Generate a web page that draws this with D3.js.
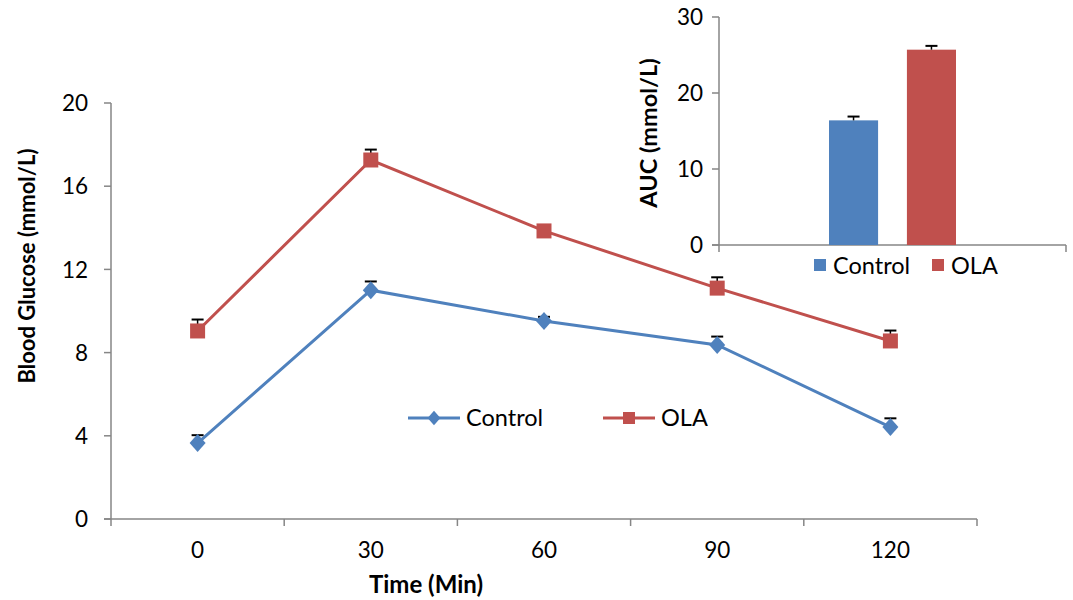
<!DOCTYPE html>
<html><head><meta charset="utf-8">
<script src="https://cdn.jsdelivr.net/npm/d3@7"></script>
<style>body{margin:0;background:#fff}svg{display:block}text{font-family:Lato,"Open Sans",sans-serif;fill:#000}</style>
</head><body>
<script>
const times = ["0","30","60","90","120"];
const yTicks = [0,4,8,12,16,20];
const controlMean = [3.65, 11.0, 9.52, 8.37, 4.42];
const controlErr  = [0.38, 0.42, 0.2, 0.4, 0.42];
const olaMean = [9.04, 17.26, 13.85, 11.1, 8.56];
const olaErr  = [0.55, 0.5, 0.15, 0.52, 0.5];
const aucGroups = ["Control","OLA"];
const aucMean = [16.4, 25.7];
const aucErr = [0.5, 0.5];
const aucTicks = [0,10,20,30];
const blue = "#4F81BD", red = "#C0504D", axisCol = "#868686";

const svg = d3.select("body").append("svg").attr("width",1073).attr("height",600);
svg.append("rect").attr("width",1073).attr("height",600).attr("fill","#fff");

// main chart
const x = d3.scaleBand().domain(times).range([111,977]);
const y = d3.scaleLinear().domain([0,20]).range([519,103]);
const g = svg.append("g");
// y axis
g.append("line").attr("x1",111).attr("x2",111).attr("y1",y(20)).attr("y2",y(0)+7).attr("stroke",axisCol).attr("stroke-width",1.5);
g.selectAll(".yt").data(yTicks).join("line").attr("x1",104).attr("x2",111).attr("y1",d=>y(d)).attr("y2",d=>y(d)).attr("stroke",axisCol).attr("stroke-width",1.5);
g.selectAll(".yl").data(yTicks).join("text").attr("x",88).attr("y",d=>y(d)).attr("dy","0.36em").attr("text-anchor","end").style("font-size","22.5px").text(d=>d);
// x axis
g.append("line").attr("x1",104).attr("x2",977).attr("y1",519).attr("y2",519).attr("stroke",axisCol).attr("stroke-width",1.5);
const bounds = times.map(t=>x(t)).concat([x.range()[1]]);
g.selectAll(".xt").data(bounds.slice(1)).join("line").attr("x1",d=>d).attr("x2",d=>d).attr("y1",519).attr("y2",526).attr("stroke",axisCol).attr("stroke-width",1.5);
g.selectAll(".xl").data(times).join("text").attr("x",d=>x(d)+x.bandwidth()/2).attr("y",558).attr("text-anchor","middle").style("font-size","22.5px").text(d=>d);
g.append("text").attr("x",426).attr("y",593).attr("text-anchor","middle").style("font-size","24px").style("font-weight","bold").text("Time (Min)");
g.append("text").attr("transform","translate(35,266) rotate(-90)").attr("text-anchor","middle").style("font-size","22px").style("font-weight","bold").text("Blood Glucose  (mmol/L)");

const cx = t => x(t)+x.bandwidth()/2;
function series(mean, err, color, shape){
  const pts = times.map((t,i)=>({t, v:mean[i], e:err[i]}));
  g.selectAll(null).data(pts).join("line").attr("x1",d=>cx(d.t)).attr("x2",d=>cx(d.t)).attr("y1",d=>y(d.v)).attr("y2",d=>y(d.v+d.e)).attr("stroke","#000").attr("stroke-width",1.5);
  g.selectAll(null).data(pts).join("line").attr("x1",d=>cx(d.t)-6).attr("x2",d=>cx(d.t)+6).attr("y1",d=>y(d.v+d.e)).attr("y2",d=>y(d.v+d.e)).attr("stroke","#000").attr("stroke-width",2);
  g.append("path").datum(pts).attr("d",d3.line().x(d=>cx(d.t)).y(d=>y(d.v))).attr("fill","none").attr("stroke",color).attr("stroke-width",3);
  g.selectAll(null).data(pts).join("path").attr("transform",d=>`translate(${cx(d.t)},${y(d.v)})`).attr("d",shape).attr("fill",color);
}
const diamond = "M0,-9L8,0L0,9L-8,0Z";
const square = "M-7.5,-7.5H7.5V7.5H-7.5Z";
series(controlMean, controlErr, blue, diamond);
series(olaMean, olaErr, red, square);

// main legend
const leg = [{n:"Control",c:blue,s:diamond,x0:408},{n:"OLA",c:red,s:square,x0:603}];
leg.forEach(l=>{
  g.append("line").attr("x1",l.x0).attr("x2",l.x0+52).attr("y1",418).attr("y2",418).attr("stroke",l.c).attr("stroke-width",3);
  g.append("path").attr("transform",`translate(${l.x0+26},418) scale(0.8)`).attr("d",l.s).attr("fill",l.c);
  g.append("text").attr("x",l.x0+58).attr("y",418).attr("dy","0.36em").style("font-size","23.5px").text(l.n);
});

// inset
const ix = d3.scaleBand().domain(["AUC"]).range([719,1066]);
const isub = d3.scaleBand().domain(aucGroups).range([ix("AUC")+110, ix("AUC")+ix.bandwidth()-110]).paddingInner(0.37);
const iy = d3.scaleLinear().domain([0,30]).range([245,17]);
const ig = svg.append("g");
ig.append("line").attr("x1",719).attr("x2",719).attr("y1",iy(30)).attr("y2",iy(0)+7).attr("stroke",axisCol).attr("stroke-width",1.5);
ig.selectAll(null).data(aucTicks).join("line").attr("x1",712).attr("x2",719).attr("y1",d=>iy(d)).attr("y2",d=>iy(d)).attr("stroke",axisCol).attr("stroke-width",1.5);
ig.selectAll(null).data(aucTicks).join("text").attr("x",703).attr("y",d=>iy(d)).attr("dy","0.36em").attr("text-anchor","end").style("font-size","22.5px").text(d=>d);
ig.append("line").attr("x1",712).attr("x2",1066).attr("y1",245).attr("y2",245).attr("stroke",axisCol).attr("stroke-width",1.5);
ig.append("line").attr("x1",1066).attr("x2",1066).attr("y1",245).attr("y2",252).attr("stroke",axisCol).attr("stroke-width",1.5);
const cols = [blue, red];
const bars = aucGroups.map((gname,i)=>({g:gname,v:aucMean[i],e:aucErr[i],c:cols[i]}));
ig.selectAll(null).data(bars).join("rect").attr("x",d=>isub(d.g)).attr("width",isub.bandwidth()).attr("y",d=>iy(d.v)).attr("height",d=>iy(0)-iy(d.v)).attr("fill",d=>d.c);
ig.selectAll(null).data(bars).join("line").attr("x1",d=>isub(d.g)+isub.bandwidth()/2).attr("x2",d=>isub(d.g)+isub.bandwidth()/2).attr("y1",d=>iy(d.v)).attr("y2",d=>iy(d.v+d.e)).attr("stroke","#000").attr("stroke-width",1.5);
ig.selectAll(null).data(bars).join("line").attr("x1",d=>isub(d.g)+isub.bandwidth()/2-6).attr("x2",d=>isub(d.g)+isub.bandwidth()/2+6).attr("y1",d=>iy(d.v+d.e)).attr("y2",d=>iy(d.v+d.e)).attr("stroke","#000").attr("stroke-width",2);
ig.append("text").attr("transform","translate(657,133) rotate(-90)").attr("text-anchor","middle").style("font-size","23.5px").style("font-weight","bold").text("AUC (mmol/L)");
const il = [{n:"Control",c:blue,x0:814},{n:"OLA",c:red,x0:932}];
il.forEach(l=>{
  ig.append("rect").attr("x",l.x0).attr("y",259).attr("width",12).attr("height",12).attr("fill",l.c);
  ig.append("text").attr("x",l.x0+19).attr("y",266).attr("dy","0.36em").style("font-size","23.5px").text(l.n);
});
</script>
</body></html>
